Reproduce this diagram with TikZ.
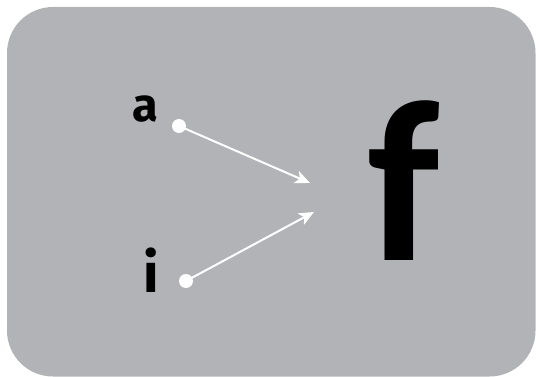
\documentclass[tikz,border=0pt]{standalone}
\usepackage{fontspec}
\setsansfont{Fira Sans}
\newfontfamily\ffont{Carlito}
\usetikzlibrary{arrows.meta}

\definecolor{panelgray}{HTML}{B1B3B6}

\begin{document}
\begin{tikzpicture}[x=1pt,y=-1pt,>={Stealth[length=15pt,width=13pt,inset=4pt]},
    font=\sffamily\bfseries,
    dot/.style={circle,fill=white,inner sep=0pt,minimum size=14pt},
    link/.style={->,white,line width=2pt,shorten <=-1pt}]
  % --- page and panel ---
  \useasboundingbox (0,0) rectangle (536,377);
  \fill[panelgray,rounded corners=46pt] (7,7) rectangle (535.5,376.5);
  % --- inputs ---
  \node[anchor=base,font=\fontsize{47}{47}\selectfont\sffamily\bfseries] (lbla) at (145,122) {a};
  \node[anchor=base,font=\fontsize{55}{55}\selectfont\sffamily\bfseries] (lbli) at (151,292) {i};
  \node[dot] (dota) at (179,126) {};
  \node[dot] (doti) at (186,281) {};
  % --- function ---
  \node[anchor=base,font=\fontsize{230}{230}\selectfont\ffont\bfseries] (fn) at (404,260) {f};
  % --- arrow tips ---
  \coordinate (tipa) at (310,183);
  \coordinate (tipi) at (314,212);
  \draw[link] (dota.center) -- (tipa);
  \draw[link] (doti.center) -- (tipi);
\end{tikzpicture}
\end{document}
